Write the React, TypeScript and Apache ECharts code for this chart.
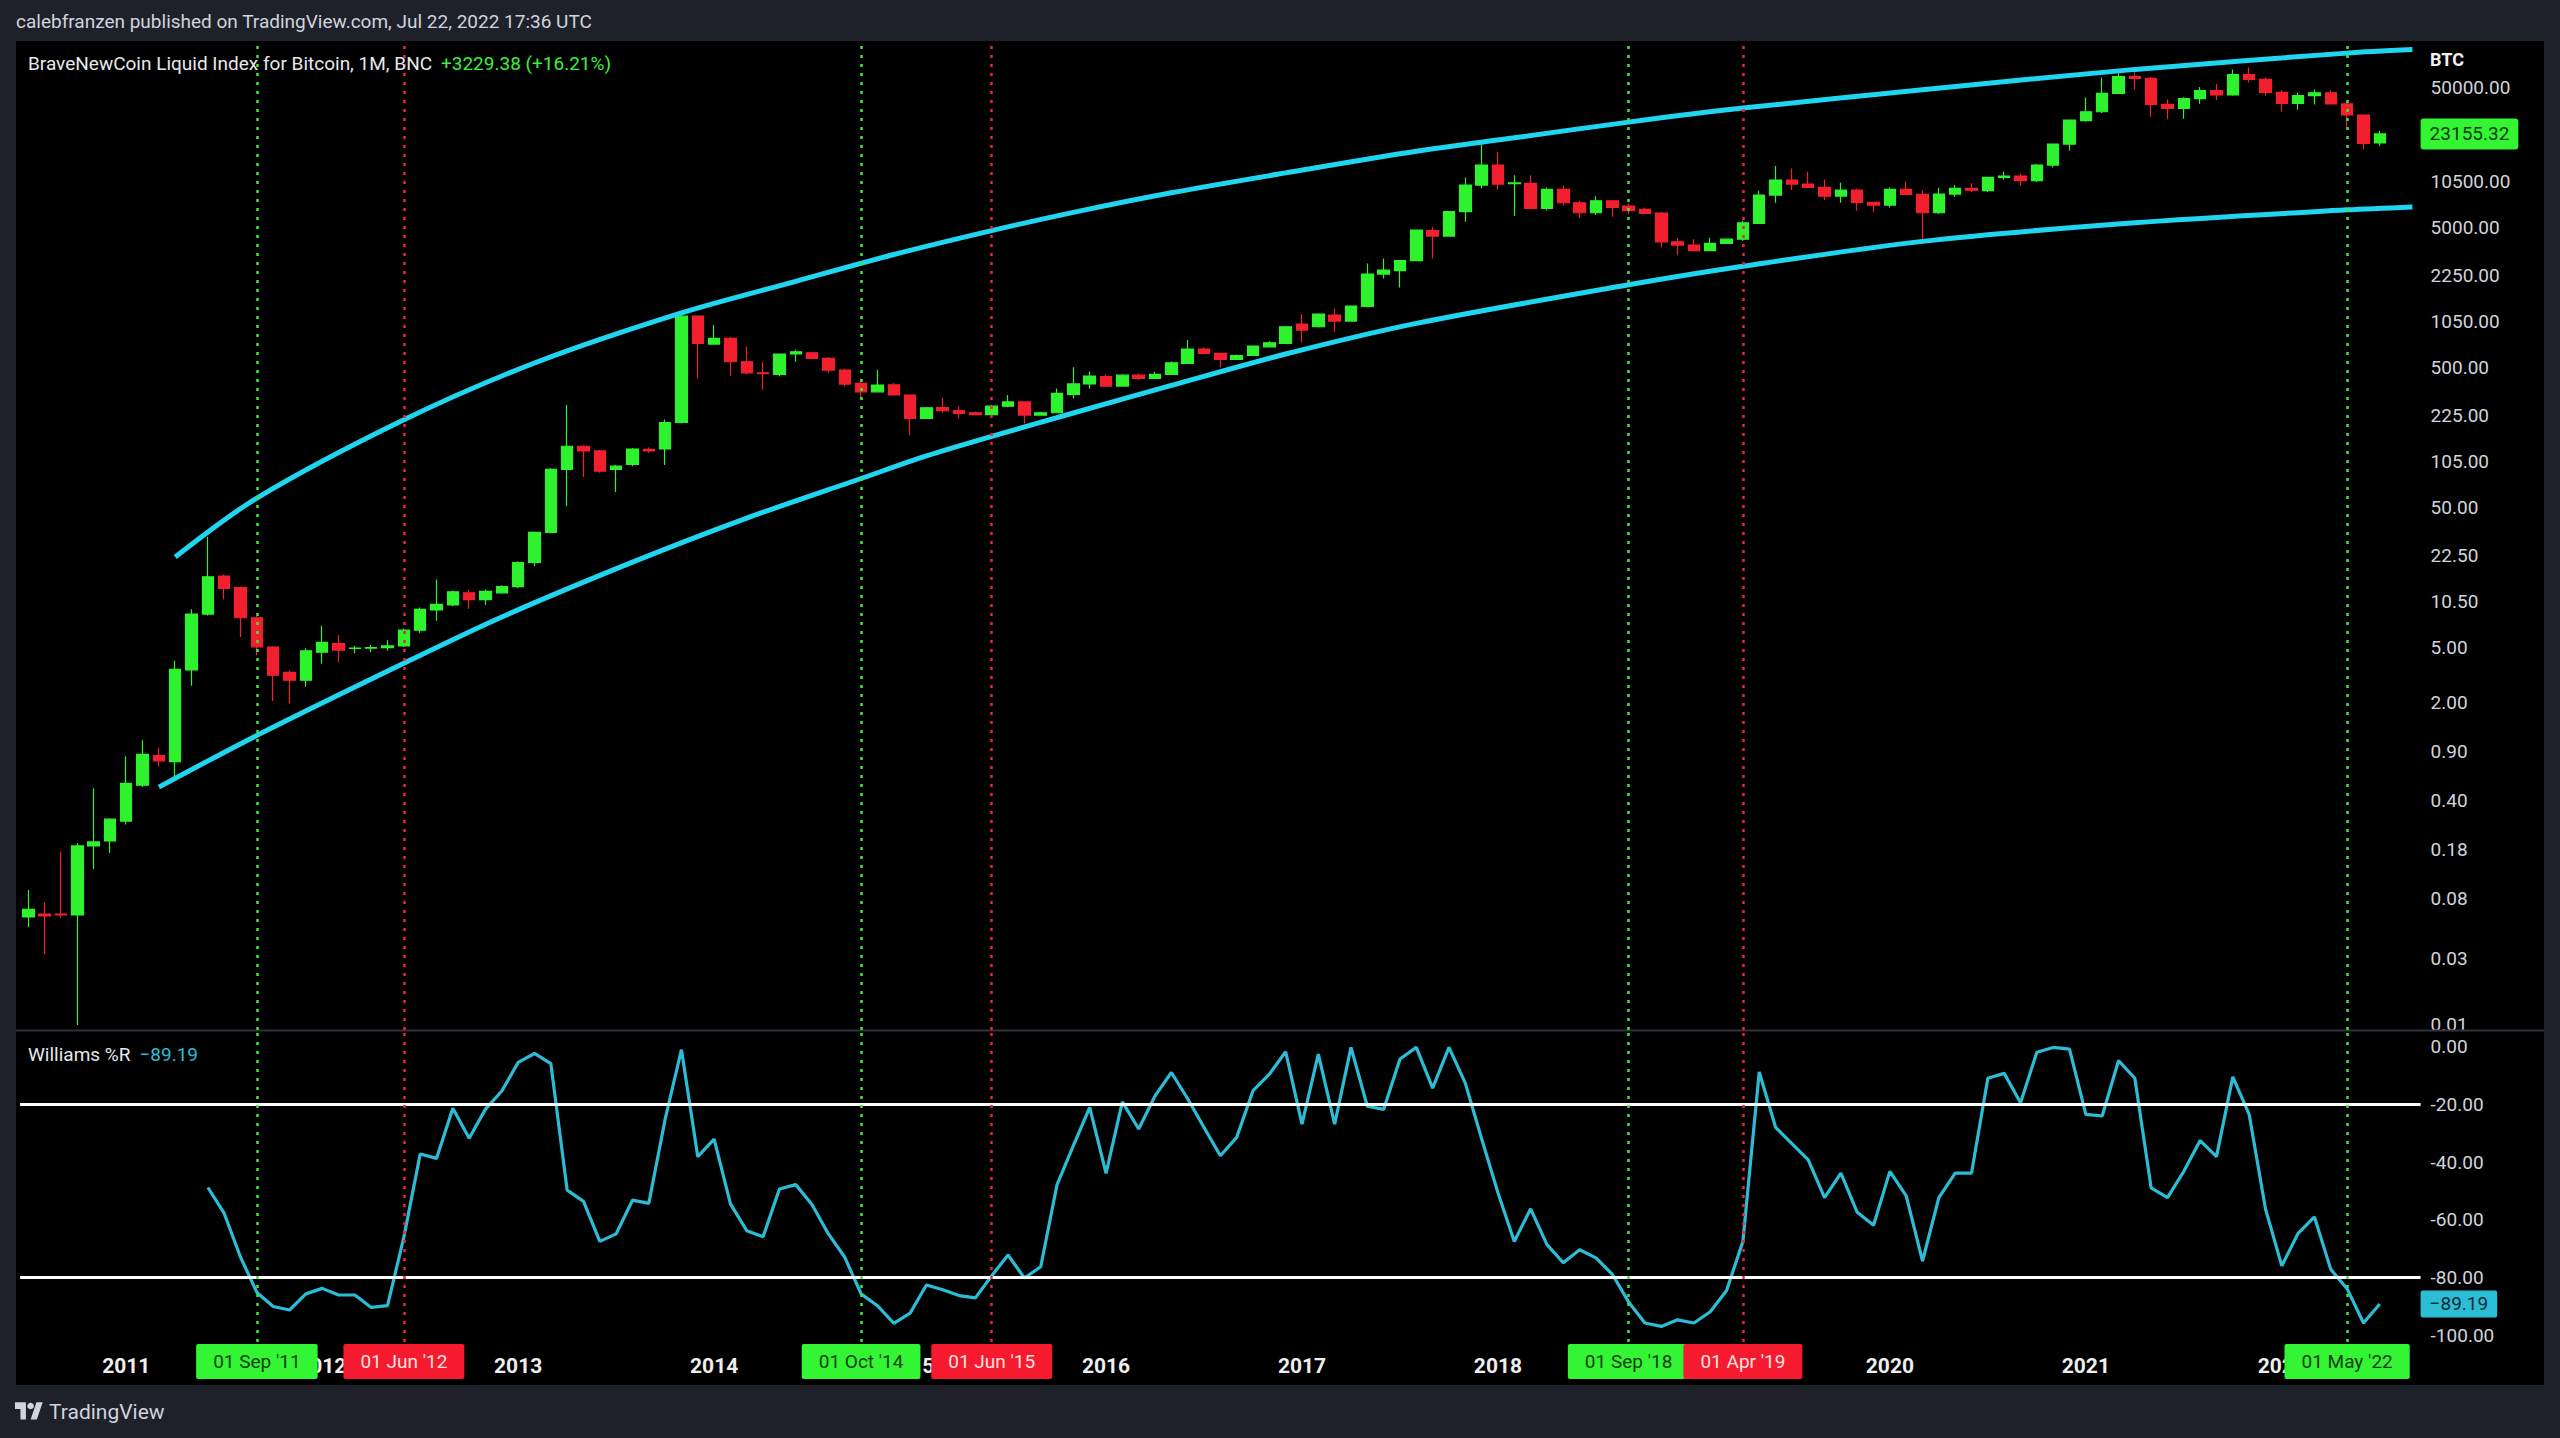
import React, { useEffect, useRef } from 'react';
import * as echarts from 'echarts';

// ---------- data ----------
const START_YEAR = 2010;
const START_MONTH = 7; // July 2010
const MONTH_COUNT = 147; // Jul 2010 .. Sep 2022 (last two are empty space on the right)

const MONTHS: string[] = [];
for (let i = 0; i < MONTH_COUNT; i++) {
  const m = START_MONTH - 1 + i;
  const y = START_YEAR + Math.floor(m / 12);
  const mm = (m % 12) + 1;
  MONTHS.push(`${y}-${mm < 10 ? '0' + mm : mm}`);
}

const OPEN = [
  0.059, 0.062, 0.062, 0.061, 0.19, 0.206, 0.286, 0.516, 0.84, 0.76,
  3.43, 8.6, 16.1, 13.3, 8.1, 5.0, 3.3, 2.9, 4.6, 5.3,
  4.9, 4.92, 4.96, 5.1, 6.6, 9.2, 10.0, 12.2, 10.9, 12.2,
  13.5, 20.1, 33.0, 93, 136, 126, 93, 101, 129, 130,
  201, 1156, 730, 802, 546, 455, 444, 620, 633, 577,
  476, 382, 333, 374, 316, 215, 257, 244, 236, 229,
  263, 282, 227, 236, 319, 379, 427, 366, 438, 415,
  443, 531, 673, 626, 568, 605, 698, 738, 1014, 971,
  1176, 1066, 1355, 2308, 2440, 2876, 4710, 4315, 6443, 9982,
  13860, 10200, 10260, 6790, 9290, 7460, 6330, 7710, 7060, 6690,
  6300, 3925, 3720, 3390, 3820, 4100, 5310, 8470, 10840, 10140,
  9600, 8320, 9180, 7500, 7180, 9300, 8550, 6330, 8610, 9450,
  9100, 11330, 11570, 10720, 13860, 19590, 28760, 33330, 45100, 59300,
  57700, 37600, 35200, 41300, 47100, 43900, 61500, 56800, 45800, 38200,
  43400, 45500, 37900, 31600, 19925.94,
];
const CLOSE = [
  0.067, 0.06, 0.061, 0.19, 0.203, 0.295, 0.531, 0.855, 0.77, 3.46,
  8.6, 15.9, 13.1, 8.1, 5.02, 3.15, 2.9, 4.7, 5.4, 4.76,
  4.92, 4.96, 5.1, 6.6, 9.3, 10.1, 12.4, 10.9, 12.5, 13.5,
  20.1, 33.0, 92.9, 136, 126, 90.4, 98, 130, 126, 201,
  1156, 738, 802, 546, 455, 448, 620, 643, 577, 476,
  378, 333, 372, 316, 215, 256, 244, 233, 229, 263,
  282, 227, 236, 324, 379, 431, 366, 438, 415, 443,
  537, 673, 626, 568, 605, 706, 746, 971, 919, 1197,
  1066, 1364, 2308, 2465, 2876, 4764, 4315, 6443, 9982, 13860,
  10150, 10330, 6790, 9290, 7460, 6330, 7710, 6900, 6540, 6270,
  3925, 3720, 3390, 3820, 4100, 5370, 8470, 10840, 10140, 9600,
  8320, 9180, 7500, 7180, 9300, 8550, 6330, 8610, 9450, 9180,
  11330, 11570, 10720, 13860, 19590, 29050, 33330, 45100, 59300, 57700,
  37600, 35200, 41300, 47100, 43900, 61500, 56800, 45800, 38200, 43400,
  45500, 37900, 31600, 19800, 23155.32,
];
const LOW = [
  0.05, 0.032, 0.058, 0.01, 0.13, 0.169, 0.27, 0.5, 0.7, 0.59,
  2.65, 8.4, 11.0, 5.9, 4.38, 2.06, 1.98, 2.6, 3.8, 3.9,
  4.5, 4.6, 4.7, 5.0, 6.3, 7.7, 9.8, 9.4, 10.0, 12.0,
  13.2, 19.0, 32.5, 51, 82, 88, 64, 98, 122, 100,
  198, 415, 725, 431, 445, 346, 430, 546, 570, 455,
  365, 290, 330, 316, 163, 212, 236, 215, 226, 227,
  258, 198, 225, 234, 298, 350, 360, 362, 405, 410,
  440, 525, 620, 498, 565, 600, 690, 735, 750, 960,
  894, 1060, 1340, 2146, 1854, 2860, 2988, 4300, 5460, 9450,
  9290, 5995, 6700, 6600, 7100, 5800, 6100, 5930, 6200, 6200,
  3580, 3155, 3390, 3380, 3800, 4000, 5300, 7460, 9190, 9500,
  7800, 7460, 6550, 6430, 6900, 8500, 4040, 6200, 8200, 8900,
  8900, 10900, 9900, 10500, 13300, 17600, 28300, 32600, 44900, 48100,
  30700, 29400, 29700, 38000, 40400, 43400, 53700, 43400, 33300, 34400,
  37500, 37600, 25800, 17950, 18960,
];
const HIGH = [
  0.092, 0.075, 0.173, 0.199, 0.49, 0.3, 0.83, 1.08, 0.95, 3.99,
  9.3, 30.7, 16.5, 13.6, 8.4, 5.1, 3.4, 4.9, 7.1, 6.1,
  5.1, 5.2, 5.6, 6.8, 9.6, 15.2, 12.7, 12.9, 12.9, 13.8,
  20.5, 33.5, 95, 268, 138, 128, 100, 132, 133, 211,
  1208, 1160, 1000, 824, 698, 546, 625, 665, 640, 590,
  486, 412, 476, 385, 320, 259, 302, 263, 240, 268,
  316, 284, 240, 352, 498, 465, 445, 445, 449, 463,
  548, 780, 690, 630, 615, 710, 765, 975, 1197, 1210,
  1313, 1370, 2752, 2988, 2900, 4780, 5029, 6470, 11320, 19800,
  17260, 11750, 11690, 9600, 9900, 7700, 8300, 7800, 7400, 6900,
  6400, 4170, 4100, 4200, 4150, 5550, 9100, 13650, 13130, 12420,
  10950, 10370, 9400, 7600, 9600, 10540, 9150, 9550, 10000, 10300,
  11400, 12400, 12000, 14100, 19800, 29300, 42200, 58600, 62600, 66100,
  59000, 40800, 42300, 50000, 52500, 66800, 69200, 58600, 47500, 45700,
  48100, 47400, 39800, 31900, 24400,
];

// Williams %R (starts at index 11 = Jun 2011)
const WPR_START = 11;
const WPR = [
  -48.8, -57.8, -73.0, -85.2, -90.1, -91.3, -85.7, -83.8, -86.1, -86.1,
  -90.4, -89.8, -66.0, -37.2, -38.7, -21.3, -31.7, -21.6, -15.3, -5.4,
  -2.3, -5.8, -49.7, -53.6, -67.5, -64.9, -53.2, -54.3, -25.1, -1.0,
  -38.1, -32.0, -54.5, -63.8, -65.9, -49.3, -47.8, -54.8, -64.9, -73.0,
  -85.7, -89.8, -95.9, -92.4, -82.6, -84.3, -86.3, -87.1, -79.4, -72.2,
  -80.2, -76.3, -47.8, -34.3, -21.0, -43.9, -19.1, -28.5, -17.0, -8.9,
  -18.0, -28.0, -37.8, -31.4, -15.2, -9.5, -1.7, -26.8, -2.5, -26.8,
  -0.2, -20.6, -21.7, -4.2, -0.2, -14.3, -0.2, -12.6, -31.9, -50.6,
  -67.5, -56.2, -68.6, -74.9, -70.4, -73.2, -78.9, -88.5, -95.8, -97.0,
  -94.7, -95.8, -91.9, -84.5, -67.5, -8.7, -27.9, -33.6, -39.2, -52.3,
  -43.8, -57.4, -61.9, -43.2, -51.7, -74.3, -52.3, -43.8, -43.8, -10.9,
  -9.2, -19.4, -1.9, -0.2, -0.8, -23.4, -24.0, -4.8, -10.9, -48.9,
  -52.3, -43.2, -32.5, -38.1, -10.4, -23.4, -56.2, -76.0, -64.7, -59.0,
  -77.2, -83.9, -95.8, -89.19,
];

// channel curves drawn on the chart (month index, price)
const UPPER_IDX = [9, 14, 23, 31, 40, 47, 53, 59, 64, 70, 77, 85, 91, 98, 105, 116, 129, 142, 146];
const UPPER_VAL = [22.0, 58, 210, 535, 1220, 2050, 3185, 4720, 6370, 8790, 12190, 17400, 21700, 28100, 35400, 47800, 66900, 87400, 92600];
const LOWER_IDX = [8, 14, 23, 29, 37, 44, 51, 55, 59, 64, 70, 77, 85, 98, 105, 116, 129, 142, 146];
const LOWER_VAL = [0.5, 1.17, 3.83, 8.2, 20.2, 41.7, 80, 116, 160, 235, 370, 620, 1026, 1936, 2624, 3953, 5370, 6637, 6970];

const PRICE_TICKS = [50000, 10500, 5000, 2250, 1050, 500, 225, 105, 50, 22.5, 10.5, 5, 2, 0.9, 0.4, 0.18, 0.08, 0.03, 0.01];
const WPR_TICKS = [0, -20, -40, -60, -80, -100];
const WPR_LEVELS = [-20, -80];

const SIGNALS = [
  { date: '2011-09', label: "01 Sep '11", kind: 'buy' },
  { date: '2012-06', label: "01 Jun '12", kind: 'sell' },
  { date: '2014-10', label: "01 Oct '14", kind: 'buy' },
  { date: '2015-06', label: "01 Jun '15", kind: 'sell' },
  { date: '2018-09', label: "01 Sep '18", kind: 'buy' },
  { date: '2019-04', label: "01 Apr '19", kind: 'sell' },
  { date: '2022-05', label: "01 May '22", kind: 'buy' },
];

const LAST_PRICE = 23155.32;
const LAST_CHANGE = '+3229.38 (+16.21%)';
const LAST_WPR = -89.19;

// ---------- styles ----------
const BG = '#1e2129';
const PANEL = '#000000';
const UP = '#2ff22f';
const DOWN = '#f2202f';
const CYAN = '#1fd5f0';
const WPR_COLOR = '#2cbdd6';
const TEXT = '#d1d4dc';
const SIG_GREEN_LINE = '#3ee63e';
const SIG_RED_LINE = '#ef2339';
const BOX_GREEN = '#33f533';
const BOX_RED = '#f51a2d';
const FONT = 'Roboto, "Noto Sans", sans-serif';

echarts.graphic.registerShape(
  'tvlogo',
  echarts.graphic.extendPath('M14 22H7V11H0V4h14v18zM28 22h-8l7.5-18h8L28 22z', {}) as any
);

const GRID_LEFT = 20.1;
const GRID_WIDTH = 2400.5;

function buildOption(): any {
  const candles = OPEN.map((o, i) => [o, CLOSE[i], LOW[i], HIGH[i]]);
  const wpr: (number | null)[] = MONTHS.map(() => null);
  WPR.forEach((v, i) => {
    wpr[WPR_START + i] = v;
  });
  const upper = UPPER_IDX.map((x, i) => [x, UPPER_VAL[i]]);
  const lower = LOWER_IDX.map((x, i) => [x, LOWER_VAL[i]]);

  const sigLineMain = SIGNALS.map((s) => ({
    xAxis: s.date,
    lineStyle: { color: s.kind === 'buy' ? SIG_GREEN_LINE : SIG_RED_LINE, type: [3, 6], width: 2.5 },
    label: { show: false },
  }));
  const sigLineWpr = SIGNALS.map((s) => ({
    xAxis: s.date,
    lineStyle: { color: s.kind === 'buy' ? SIG_GREEN_LINE : SIG_RED_LINE, type: [3, 6], width: 2.5 },
    label: {
      show: true,
      position: 'start',
      distance: 2,
      formatter: s.label,
      backgroundColor: s.kind === 'buy' ? BOX_GREEN : BOX_RED,
      color: s.kind === 'buy' ? '#0f3d0f' : '#ffe3e3',
      fontSize: 19,
      fontFamily: FONT,
      padding: [8, 17, 8, 17],
      borderRadius: 2,
    },
  }));

  const xAxisCommon = {
    type: 'category',
    data: MONTHS,
    boundaryGap: true,
    axisLine: { show: false },
    axisTick: { show: false },
    splitLine: { show: false },
  };

  return {
    animation: false,
    backgroundColor: BG,
    textStyle: { fontFamily: FONT },
    title: [
      {
        text: 'calebfranzen published on TradingView.com, Jul 22, 2022 17:36 UTC',
        left: 16,
        top: 12,
        padding: 0,
        textStyle: { color: TEXT, fontSize: 19, fontWeight: 'normal', fontFamily: FONT },
      },
      {
        text: `{a|BraveNewCoin Liquid Index for Bitcoin, 1M, BNC}  {b|${LAST_CHANGE}}`,
        left: 28,
        top: 54,
        padding: 0,
        textStyle: {
          fontWeight: 'normal',
          rich: {
            a: { color: '#e6e8ee', fontSize: 19, fontWeight: 'normal', fontFamily: FONT },
            b: { color: '#3cf03c', fontSize: 19, fontWeight: 'normal', fontFamily: FONT },
          },
        },
      },
      {
        text: 'BTC',
        left: 2430,
        top: 50,
        padding: 0,
        textStyle: { color: '#f0f0f0', fontSize: 18, fontWeight: 'bold', fontFamily: FONT },
      },
      {
        text: `{a|Williams %R}  {b|\u2212${Math.abs(LAST_WPR).toFixed(2)}}`,
        left: 28,
        top: 1045,
        padding: 0,
        textStyle: {
          fontWeight: 'normal',
          rich: {
            a: { color: '#e6e8ee', fontSize: 19, fontWeight: 'normal', fontFamily: FONT },
            b: { color: WPR_COLOR, fontSize: 19, fontWeight: 'normal', fontFamily: FONT },
          },
        },
      },
      {
        text: 'TradingView',
        left: 49,
        top: 1401,
        padding: 0,
        textStyle: { color: TEXT, fontSize: 21, fontWeight: 'normal', fontFamily: FONT },
      },
    ],
    graphic: [
      { type: 'rect', z: -10, silent: true, shape: { x: 16, y: 41, width: 2528, height: 1344 }, style: { fill: PANEL } },
      { type: 'line', z: 1, silent: true, shape: { x1: 16, y1: 1030.5, x2: 2544, y2: 1030.5 }, style: { stroke: '#2f333e', lineWidth: 2 } },
      { type: 'tvlogo', x: 15, y: 1398.5, scaleX: 0.78, scaleY: 0.95, style: { fill: TEXT } },
      { type: 'circle', shape: { cx: 30.6, cy: 1406, r: 3.3 }, style: { fill: TEXT } },
    ],
    grid: [
      { left: GRID_LEFT, top: 41, width: GRID_WIDTH, height: 989 },
      { left: GRID_LEFT, top: 1031, width: GRID_WIDTH, height: 311 },
    ],
    xAxis: [
      { ...xAxisCommon, gridIndex: 0, show: false },
      {
        ...xAxisCommon,
        gridIndex: 1,
        axisLabel: {
          show: true,
          interval: (i: number) => MONTHS[i].endsWith('-01'),
          formatter: (v: string) => v.slice(0, 4),
          color: '#eeeeee',
          fontWeight: 'bold',
          fontSize: 21,
          margin: 13,
          fontFamily: FONT,
        },
      },
    ],
    yAxis: [
      {
        type: 'log',
        logBase: 10,
        gridIndex: 0,
        position: 'right',
        min: 0.0092,
        max: 106700,
        axisLine: { show: false },
        axisTick: { show: false },
        splitLine: { show: false },
        axisLabel: {
          customValues: PRICE_TICKS,
          formatter: (v: number) => Number(v).toFixed(2),
          color: TEXT,
          fontSize: 19,
          margin: 10,
          fontFamily: FONT,
        },
      },
      {
        type: 'value',
        gridIndex: 1,
        position: 'right',
        min: -102.4,
        max: 5.5,
        axisLine: { show: false },
        axisTick: { show: false },
        splitLine: { show: false },
        axisLabel: {
          customValues: WPR_TICKS,
          formatter: (v: number) => Number(v).toFixed(2),
          color: TEXT,
          fontSize: 19,
          margin: 10,
          fontFamily: FONT,
        },
      },
    ],
    series: [
      {
        type: 'candlestick',
        xAxisIndex: 0,
        yAxisIndex: 0,
        data: candles,
        barWidth: 12,
        itemStyle: { color: UP, color0: DOWN, borderColor: UP, borderColor0: DOWN, borderWidth: 1.2 },
        markLine: {
          silent: true,
          symbol: ['none', 'none'],
          data: [
            ...sigLineMain,
            {
              yAxis: LAST_PRICE,
              lineStyle: { color: 'rgba(0,0,0,0)', width: 0 },
              label: {
                show: true,
                position: 'end',
                distance: 0,
                formatter: LAST_PRICE.toFixed(2),
                backgroundColor: BOX_GREEN,
                color: '#0f3d0f',
                fontSize: 19,
                fontFamily: FONT,
                padding: [6, 9, 6, 9],
                borderRadius: 3,
              },
            },
          ],
        },
        z: 3,
      },
      {
        type: 'line',
        xAxisIndex: 0,
        yAxisIndex: 0,
        data: upper,
        smooth: 0.3,
        showSymbol: false,
        lineStyle: { color: CYAN, width: 5 },
        z: 4,
      },
      {
        type: 'line',
        xAxisIndex: 0,
        yAxisIndex: 0,
        data: lower,
        smooth: 0.3,
        showSymbol: false,
        lineStyle: { color: CYAN, width: 5 },
        z: 4,
      },
      {
        type: 'line',
        xAxisIndex: 1,
        yAxisIndex: 1,
        data: wpr,
        showSymbol: false,
        connectNulls: false,
        lineStyle: { color: WPR_COLOR, width: 3.2 },
        markLine: {
          silent: true,
          symbol: ['none', 'none'],
          data: [
            ...WPR_LEVELS.map((v) => ({
              yAxis: v,
              lineStyle: { color: '#ffffff', width: 3, type: 'solid' },
              label: { show: false },
            })),
            ...sigLineWpr,
            {
              yAxis: LAST_WPR,
              lineStyle: { color: 'rgba(0,0,0,0)', width: 0 },
              label: {
                show: true,
                position: 'end',
                distance: 0,
                formatter: '\u2212' + Math.abs(LAST_WPR).toFixed(2),
                backgroundColor: WPR_COLOR,
                color: '#062a31',
                fontSize: 19,
                fontFamily: FONT,
                padding: [4, 9, 4, 9],
                borderRadius: 2,
              },
            },
          ],
        },
        z: 3,
      },
    ],
  };
}

export default function App() {
  const ref = useRef<HTMLDivElement>(null);
  useEffect(() => {
    document.body.style.margin = '0';
    document.body.style.background = BG;
    const chart = echarts.init(ref.current as HTMLDivElement, null, { renderer: 'svg', width: 2560, height: 1438 });
    chart.setOption(buildOption());
    return () => {
      chart.dispose();
    };
  }, []);
  return <div ref={ref} style={{ width: 2560, height: 1438 }} />;
}
